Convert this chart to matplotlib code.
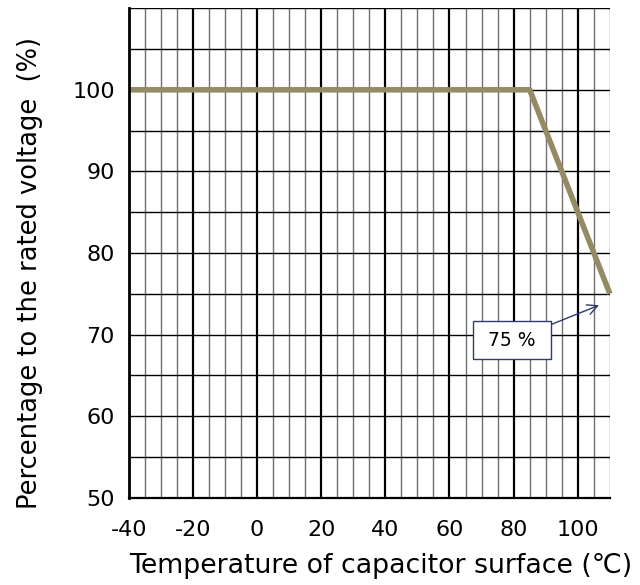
import matplotlib.pyplot as plt
from matplotlib.ticker import MultipleLocator

plt.rcParams['font.family'] = ['DejaVu Sans', 'Noto Sans CJK JP']
plt.rcParams['axes.unicode_minus'] = False

# derating curve: temperature (C) vs percentage of rated voltage
temp = [-40, 85, 110]
percent = [100, 100, 75]

x_ticks = [-40, -20, 0, 20, 40, 60, 80, 100]
y_ticks = [50, 60, 70, 80, 90, 100]

fig = plt.figure(figsize=(6.4, 5.85), dpi=100)
ax = fig.add_axes([0.201, 0.149, 0.752, 0.837])

ax.set_xlim(-40, 110)
ax.set_ylim(50, 110)
ax.set_xticks(x_ticks)
ax.set_yticks(y_ticks)
ax.xaxis.set_minor_locator(MultipleLocator(5))
ax.yaxis.set_minor_locator(MultipleLocator(5))

ax.grid(which='major', axis='x', color='black', lw=1.6)
ax.grid(which='minor', axis='x', color='#707070', lw=1.0)
ax.grid(which='both', axis='y', color='black', lw=1.0)
ax.set_axisbelow(True)

ax.tick_params(which='both', length=0, labelsize=16)
ax.tick_params(axis='x', pad=16)
ax.tick_params(axis='y', pad=10)

for side in ['top', 'right']:
    ax.spines[side].set_visible(False)
ax.spines['left'].set_linewidth(2)
ax.spines['bottom'].set_linewidth(1.6)

ax.plot(temp, percent, color='#948A64', lw=4, solid_capstyle='butt', clip_on=False)

ax.annotate(' 75 % ', xy=(106.6, 73.6), xytext=(79.4, 69.3),
            fontsize=13.5, ha='center', va='center',
            bbox=dict(boxstyle='square,pad=0.5', fc='white', ec='#2F3A6E', lw=1),
            arrowprops=dict(arrowstyle='->', color='#2F3A6E', lw=1,
                            mutation_scale=18, shrinkA=0, shrinkB=0))

ax.set_xlabel('Temperature of capacitor surface (℃)', fontsize=19.3)
ax.set_ylabel('Percentage to the rated voltage  (%)', fontsize=18.5)
ax.xaxis.set_label_coords(0.524, -0.112)
ax.yaxis.set_label_coords(-0.178, 0.459)

plt.savefig('out.png', dpi=100)
